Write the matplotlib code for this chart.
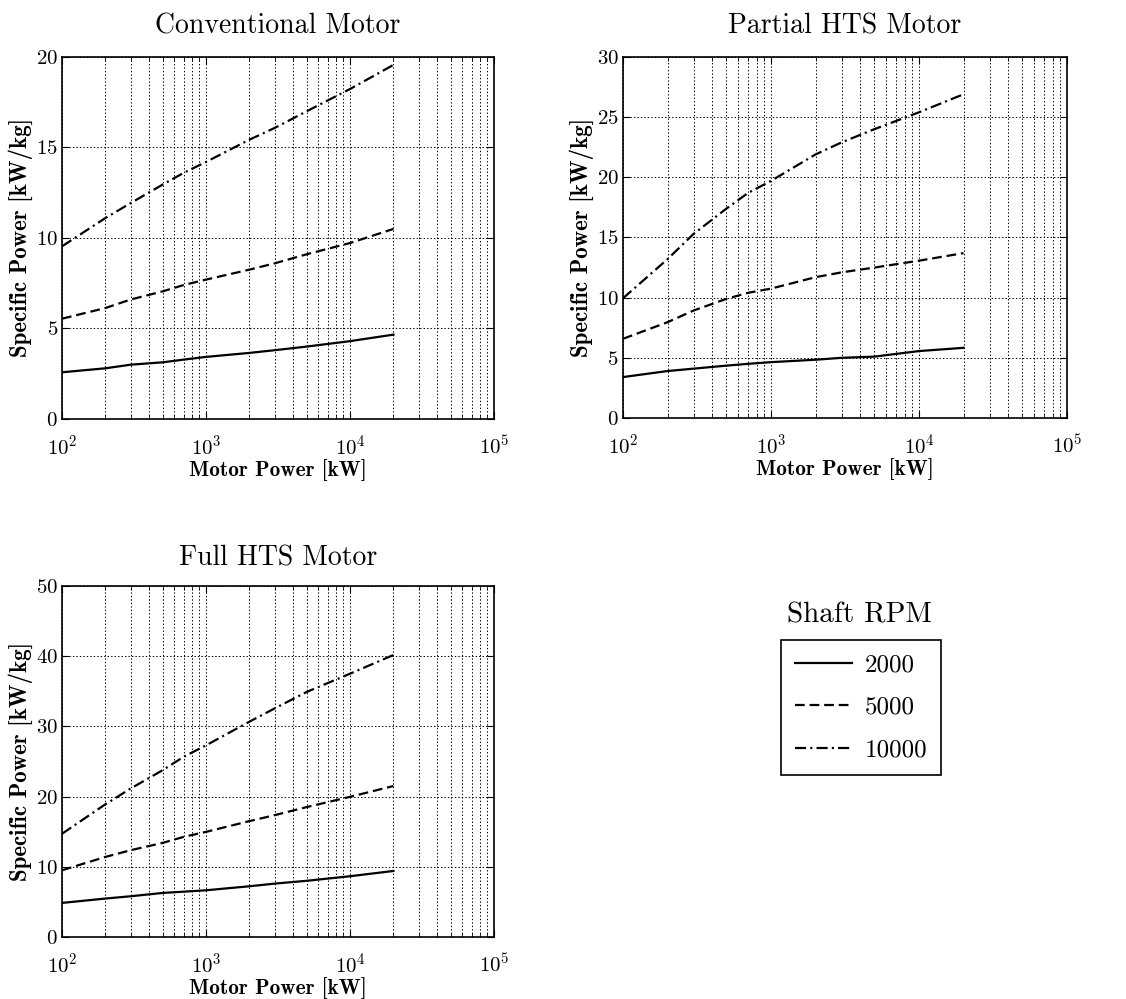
import matplotlib
matplotlib.use('Agg')
import matplotlib.pyplot as plt
from matplotlib.lines import Line2D

plt.rcParams['font.family'] = 'cmr10'
plt.rcParams['mathtext.fontset'] = 'cm'
plt.rcParams['axes.formatter.use_mathtext'] = True
plt.rcParams['lines.scale_dashes'] = False

# motor power [kW]
power = [100, 200, 300, 500, 700, 1000, 2000, 3000, 5000, 10000, 20000]

# specific power [kW/kg] for shaft speeds 2000, 5000, 10000 rpm
conv_2000 = [2.58, 2.8, 3.0, 3.13, 3.28, 3.43, 3.65, 3.8, 4.0, 4.3, 4.66]
conv_5000 = [5.54, 6.13, 6.6, 7.05, 7.4, 7.7, 8.25, 8.6, 9.1, 9.72, 10.5]
conv_10000 = [9.54, 11.1, 11.93, 12.95, 13.6, 14.2, 15.43, 16.08, 17.0, 18.23, 19.56]

part_2000 = [3.4, 3.9, 4.1, 4.35, 4.5, 4.64, 4.84, 5.0, 5.1, 5.56, 5.83]
part_5000 = [6.58, 7.96, 8.93, 9.9, 10.4, 10.75, 11.7, 12.1, 12.5, 13.07, 13.7]
part_10000 = [9.95, 13.2, 15.3, 17.4, 18.7, 19.7, 21.9, 22.9, 24.0, 25.4, 26.9]

full_2000 = [4.85, 5.47, 5.8, 6.27, 6.45, 6.65, 7.22, 7.6, 8.0, 8.65, 9.4]
full_5000 = [9.5, 11.4, 12.36, 13.4, 14.26, 14.97, 16.5, 17.35, 18.5, 19.96, 21.5]
full_10000 = [14.7, 18.9, 21.15, 23.76, 25.67, 27.3, 30.66, 32.56, 34.9, 37.5, 40.16]

rpm_labels = ['2000', '5000', '10000']
styles = ['-', (0, (7, 3.5)), (0, (8, 3, 1.5, 3))]

fig = plt.figure(figsize=(11.26, 9.99), dpi=100)

panels = [
    ('Conventional Motor', [0.0551, 0.5806, 0.3837, 0.3624], 20, [0, 5, 10, 15, 20],
     [conv_2000, conv_5000, conv_10000], 17),
    ('Partial HTS Motor', [0.5533, 0.5816, 0.3943, 0.3614], 30, [0, 5, 10, 15, 20, 25, 30],
     [part_2000, part_5000, part_10000], 17),
    ('Full HTS Motor', [0.0551, 0.0621, 0.3837, 0.3514], 50, [0, 10, 20, 30, 40, 50],
     [full_2000, full_5000, full_10000], 15),
]

for title, pos, ymax, yticks, series, tpad in panels:
    ax = fig.add_axes(pos)
    for ys, ls in zip(series, styles):
        ax.plot(power, ys, color='black', linestyle=ls, linewidth=1.6)
    ax.set_xscale('log')
    ax.set_xlim(100, 100000)
    ax.set_ylim(0, ymax)
    ax.set_yticks(yticks)
    ax.grid(True, which='major', color='black', linestyle=(0, (1, 1.5)), linewidth=0.7)
    ax.grid(True, which='minor', axis='x', color='black', linestyle=(0, (1, 1.5)), linewidth=0.7)
    ax.tick_params(which='both', direction='in', top=True, right=True, labelsize=15)
    ax.tick_params(which='major', length=5)
    ax.tick_params(which='minor', length=3)
    ax.tick_params(axis='x', which='major', pad=11)
    ax.tick_params(axis='y', which='major', pad=3)
    for s in ax.spines.values():
        s.set_linewidth(1.2)
    ax.set_title(title, fontsize=20, pad=tpad)
    ax.set_xlabel('Motor Power [kW]', fontfamily='cmb10', fontsize=15.3, labelpad=0)
    ax.set_ylabel('Specific Power [kW/kg]', fontfamily='cmb10', fontsize=16.5, labelpad=2)

handles = [Line2D([], [], color='black', linestyle=ls, linewidth=1.6) for ls in styles]
fig.text(860 / 1126, 1 - 615 / 999, 'Shaft RPM', ha='center', va='center', fontsize=21)
leg = fig.legend(handles, rpm_labels, loc='upper left', bbox_to_anchor=(781 / 1126, 1 - 640 / 999),
                 borderaxespad=0, fontsize=18, fancybox=False, edgecolor='black',
                 handlelength=2.3, handletextpad=0.5, labelspacing=0.8, borderpad=0.55,
                 framealpha=1)
leg.get_frame().set_linewidth(1.2)

fig.savefig('out.png', dpi=100)
